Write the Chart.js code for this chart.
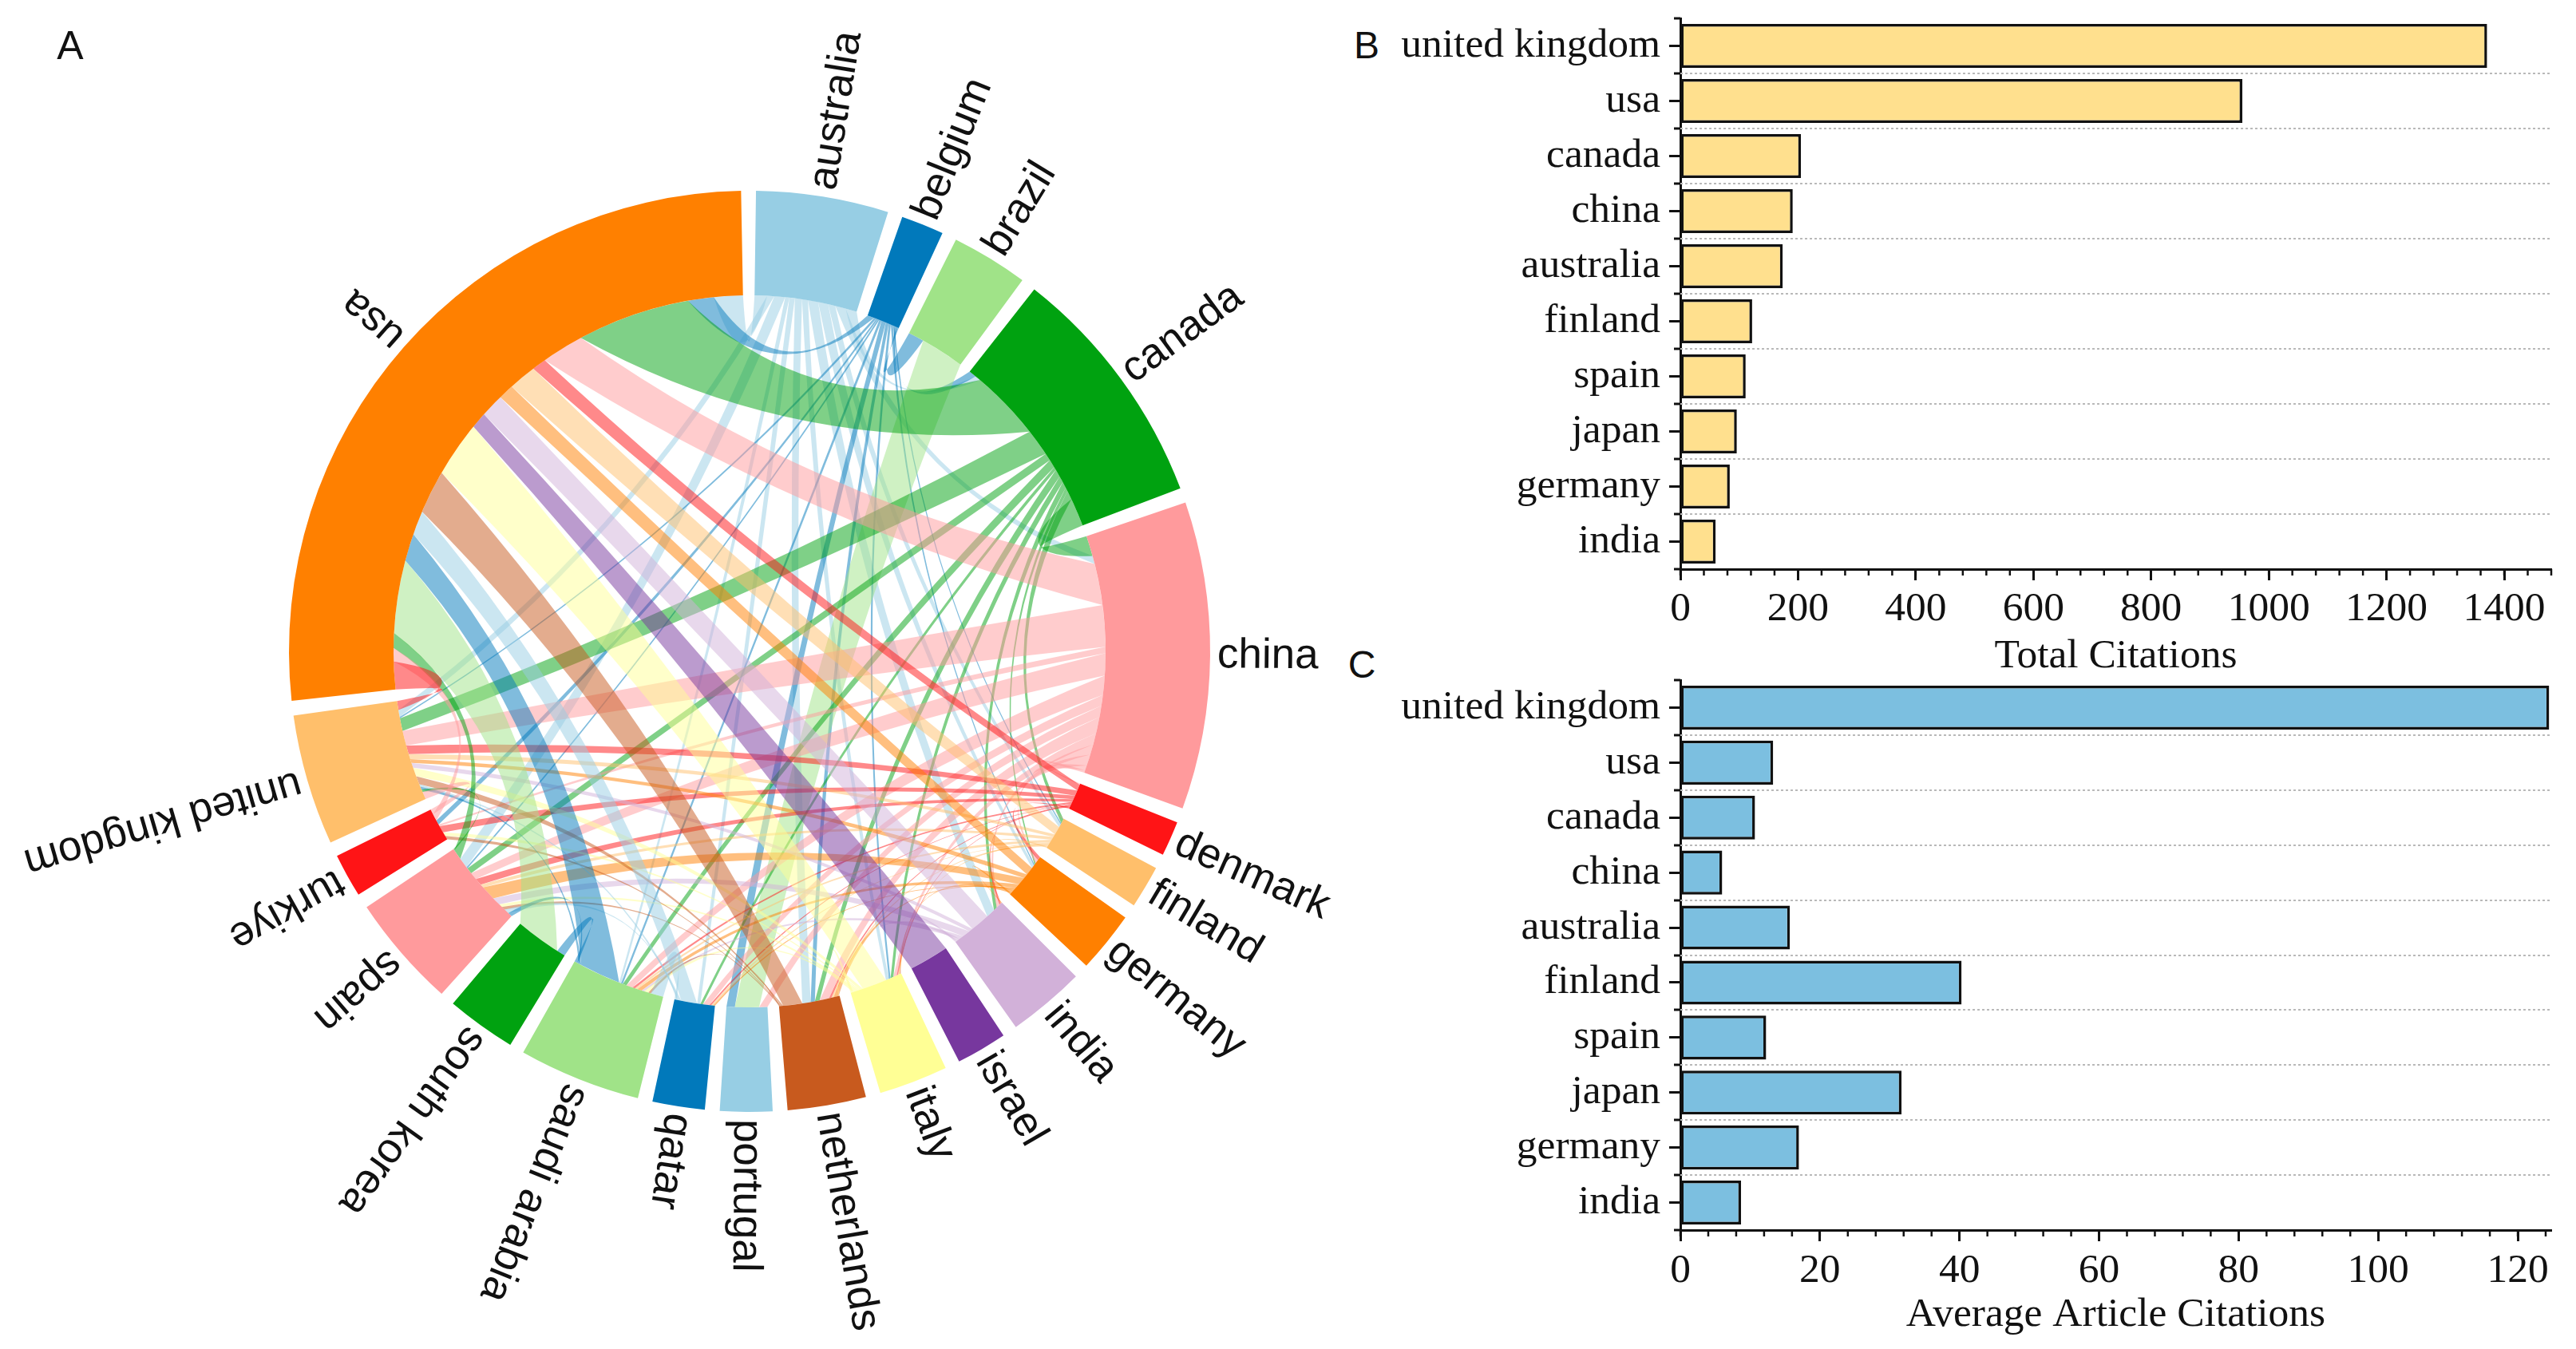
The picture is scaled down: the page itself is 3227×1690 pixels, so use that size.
<!DOCTYPE html>
<html><head><meta charset="utf-8">
<style>
html,body{margin:0;padding:0;background:#fff;width:3227px;height:1690px;overflow:hidden}
canvas{position:absolute}
.tag{position:absolute;font-family:"Liberation Sans",sans-serif;color:#111;line-height:1;transform:translate(-50%,-50%)}
</style>
<script src="https://cdn.jsdelivr.net/npm/chart.js@4"></script>
</head><body>
<div class="tag" style="left:88px;top:57px;font-size:50px">A</div>
<div class="tag" style="left:1712px;top:57px;font-size:48px">B</div>
<div class="tag" style="left:1706px;top:833px;font-size:48px">C</div>
<canvas id="chord" width="1680" height="1690" style="left:0;top:0"></canvas>
<canvas id="barB" width="1547" height="850" style="left:1680px;top:0"></canvas>
<canvas id="barC" width="1547" height="870" style="left:1680px;top:820px"></canvas>
<script>
// ---------- data ----------
const countries = ["australia","belgium","brazil","canada","china","denmark","finland","germany","india","israel","italy","netherlands","portugal","qatar","saudi arabia","south korea","spain","turkiye","united kingdom","usa"];
const sectorValues = [16.7,5.4,9.7,31.1,38.8,4.4,5.4,7.7,9.8,6.4,8.7,9.9,6.6,6.6,15.4,8.8,14.3,5.5,16.5,95.1];
const sectorColors = ["#97CEE4","#0179BB","#A0E388","#00A210","#FF9A9C","#FF1416","#FFBF6B","#FF8000","#D2B1D9","#77379E","#FFFF95","#C85A1E","#97CEE4","#0179BB","#A0E388","#00A210","#FF9A9C","#FF1416","#FFBF6B","#FF8000"];
const linkColors = ["#97CEE4","#0179BB","#A0E388","#00A210","#FF9A9C","#FF1416","#FFBF6B","#FF8000","#D2B1D9","#77379E","#FFFF95","#C85A1E","#97CEE4","#97CEE4","#0179BB","#A0E388","#00A210","#FF9A9C","#FF1416","#FF8000"];
// [from, to, width at from, width at to]
const linksAustralia = [["australia","canada",1.9,.9],["australia","china",1.8,1.3],["australia","germany",1.7,.5],["australia","finland",1.2,.5],["australia","india",1.7,1.4],["australia","italy",1,.5],["australia","netherlands",1.2,1.4],["australia","qatar",.9,.5],["australia","saudi arabia",.7,.3],["australia","spain",1.8,1.4],["australia","united kingdom",1.2,1.1],["australia","usa",2.1,4.7]];
const linksBelgium = [["belgium","brazil",.3,2.6],["belgium","canada",.3,1.2],["belgium","finland",.2,.2],["belgium","germany",.3,.2],["belgium","italy",.3,.3],["belgium","netherlands",.4,.7],["belgium","portugal",.6,1.3],["belgium","saudi arabia",.3,.3],["belgium","spain",.2,.2],["belgium","turkiye",.2,.8],["belgium","united kingdom",.3,.2],["belgium","usa",.9,4.2]];
const linksBrazil = [["brazil","portugal",7.2,3.8]];
const linksCanada = [["canada","china",4.5,3.2],["canada","finland",1.4,.7],["canada","germany",.6,.3],["canada","india",1,.6],["canada","italy",1,.5],["canada","netherlands",1.2,.8],["canada","qatar",.5,.4],["canada","saudi arabia",1.3,.6],["canada","spain",1.2,.8],["canada","united kingdom",4.3,2],["canada","usa",11.3,18.3]];
const linksChina = [["china","denmark",.4,.2],["china","finland",.8,.1],["china","germany",1.8,.7],["china","india",1.6,.6],["china","italy",1.8,.6],["china","netherlands",2.6,1.6],["china","portugal",1.8,1.3],["china","qatar",1.7,1],["china","saudi arabia",3,1],["china","spain",3.5,1],["china","turkiye",1,.3],["china","united kingdom",6.5,2.3],["china","usa",6.5,6.8]];
const linksDenmark = [["denmark","germany",.2,.6],["denmark","india",.1,.3],["denmark","italy",.2,.25],["denmark","netherlands",.2,.4],["denmark","qatar",.1,.3],["denmark","saudi arabia",.3,.4],["denmark","spain",.4,1],["denmark","turkiye",.6,1.2],["denmark","united kingdom",.8,1.4],["denmark","usa",.9,2.3]];
const linksFinland = [["finland","india",.2,.1],["finland","italy",.4,.25],["finland","netherlands",.3,.4],["finland","qatar",.1,.3],["finland","saudi arabia",.5,.4],["finland","spain",.5,.5],["finland","united kingdom",.5,.8],["finland","usa",1.3,4.5]];
const linksGermany = [["germany","india",.3,.1],["germany","italy",.6,.2],["germany","netherlands",.4,.8],["germany","qatar",.2,.3],["germany","saudi arabia",.8,.7],["germany","spain",1.4,2],["germany","united kingdom",.8,.6],["germany","usa",1.4,2.5]];
const linksIndia = [["india","italy",.3,.1],["india","netherlands",.5,.1],["india","saudi arabia",.7,.4],["india","spain",1.2,1.1],["india","united kingdom",.6,.8],["india","usa",3,3.8]];
const linksIsrael = [["israel","usa",6.4,2.6]];
const linksItaly = [["italy","netherlands",.4,.1],["italy","saudi arabia",.5,.7],["italy","spain",.5,.5],["italy","turkiye",.2,.7],["italy","united kingdom",.5,1.4],["italy","usa",4,9]];
const linksNetherlands = [["netherlands","saudi arabia",.15,.4],["netherlands","spain",.2,.5],["netherlands","turkiye",.15,.7],["netherlands","united kingdom",.2,1.3],["netherlands","usa",3.2,7]];
const linksQatar = [["qatar","saudi arabia",.4,2],["qatar","spain",.3,.7],["qatar","united kingdom",.4,.4],["qatar","usa",2.5,3.9]];
const linksSaudi = [["saudi arabia","south korea",.5,1.4],["saudi arabia","spain",.3,.6],["saudi arabia","united kingdom",.4,.5],["saudi arabia","usa",6.5,4.4]];
const linksKorea = [["south korea","usa",7.4,11.8]];
const linksSpain = [["spain","united kingdom",.2,.4],["spain","usa",1.4,2.4]];
const linksTurkiye = [["turkiye","united kingdom",.9,1.2],["turkiye","usa",1.2,2.2]];
const linksUK = [["united kingdom","usa",1.4,4.5]];

const barCategories = ["united kingdom","usa","canada","china","australia","finland","spain","japan","germany","india"];
const totalCitations = [1371,955,205,191,174,122,111,96,84,60];
const averageCitations = [124.5,13.3,10.7,6,15.7,40.3,12.3,31.7,17,8.7];
const totalTicks = [0,200,400,600,800,1000,1200,1400];
const averageTicks = [0,20,40,60,80,100,120];

// ---------- chord ----------
const sectorGap = 1.86;
const allLinks = [].concat(linksAustralia,linksBelgium,linksBrazil,linksCanada,linksChina,linksDenmark,linksFinland,linksGermany,linksIndia,linksIsrael,linksItaly,linksNetherlands,linksQatar,linksSaudi,linksKorea,linksSpain,linksTurkiye,linksUK);
const ix = n => countries.indexOf(n);

const ribbons = {
  id:'ribbons',
  beforeDatasetsDraw(chart){
    const arcs = chart.getDatasetMeta(0).data, n = countries.length, ctx = chart.ctx;
    const cx = arcs[0].x, cy = arcs[0].y, r = arcs[0].innerRadius;
    const ends = countries.map(()=>[]);
    const slots = allLinks.map(()=>({}));
    allLinks.forEach((l,k)=>{
      ends[ix(l[0])].push({k,side:'a',other:ix(l[1]),v:l[2]});
      ends[ix(l[1])].push({k,side:'b',other:ix(l[0]),v:l[3]});
    });
    ends.forEach((list,i)=>{
      const arc = arcs[i*2];
      list.sort((p,q)=>((q.other-i+n)%n)-((p.other-i+n)%n));
      const sum = list.reduce((s,e)=>s+e.v,0);
      let a = arc.startAngle;
      const span = arc.endAngle-arc.startAngle;
      list.forEach(e=>{
        const w = e.v/sum*span;
        slots[e.k][e.side]=[a,a+w];
        a+=w;
      });
    });
    const pt = t=>[cx+r*Math.cos(t),cy+r*Math.sin(t)];
    const curveTo = (t1,t2)=>{
      const p=pt(t1),q=pt(t2),k=0.74;
      ctx.quadraticCurveTo(cx+((p[0]+q[0])/2-cx)*k,cy+((p[1]+q[1])/2-cy)*k,q[0],q[1]);
    };
    ctx.save();
    ctx.globalAlpha=0.5;
    allLinks.forEach((l,k)=>{
      const A=slots[k].a,B=slots[k].b;
      ctx.beginPath();
      ctx.arc(cx,cy,r,A[0],A[1]);
      curveTo(A[1],B[0]);
      ctx.arc(cx,cy,r,B[0],B[1]);
      curveTo(B[1],A[0]);
      ctx.closePath();
      ctx.fillStyle=linkColors[ix(l[0])];
      ctx.fill();
    });
    ctx.restore();
  },
  afterDatasetsDraw(chart){
    const arcs = chart.getDatasetMeta(0).data, ctx = chart.ctx;
    ctx.save();
    ctx.fillStyle='#111';
    ctx.font='53px "Liberation Sans"';
    ctx.textAlign='left';
    ctx.textBaseline='middle';
    countries.forEach((name,i)=>{
      const arc=arcs[i*2], t=(arc.startAngle+arc.endAngle)/2;
      ctx.save();
      ctx.translate(arc.x,arc.y);
      ctx.rotate(t);
      ctx.fillText(name,arc.outerRadius+9,0);
      ctx.restore();
    });
    ctx.restore();
  }
};

new Chart(document.getElementById('chord'),{
  type:'doughnut',
  data:{
    labels:countries.flatMap(c=>[c,'']),
    datasets:[{
      data:sectorValues.flatMap(v=>[v,sectorGap]),
      backgroundColor:sectorColors.flatMap(c=>[c,'rgba(0,0,0,0)']),
      borderWidth:0,
      radius:577,
      cutout:'77.3%'
    }]
  },
  options:{
    responsive:false,animation:false,devicePixelRatio:1,
    rotation:0.8,
    layout:{padding:{left:198,right:0,top:0,bottom:58}},
    plugins:{legend:{display:false},tooltip:{enabled:false}},
    events:[]
  },
  plugins:[ribbons]
});

// ---------- bars ----------
const INK='#111';
const decor = {
  id:'decor',
  beforeDatasetsDraw(chart,args,o){
    const ctx=chart.ctx,x=chart.scales.x,y=chart.scales.y,ca=chart.chartArea;
    const step=y.getPixelForValue(1)-y.getPixelForValue(0);
    ctx.save();
    ctx.strokeStyle='#b9b9b9';ctx.lineWidth=2;ctx.setLineDash([3,3]);
    for(let i=0;i<barCategories.length-1;i++){
      const py=Math.round(y.getPixelForValue(i)+step/2);
      ctx.beginPath();ctx.moveTo(ca.left,py);ctx.lineTo(ca.right,py);ctx.stroke();
    }
    ctx.setLineDash([]);ctx.strokeStyle=INK;ctx.lineWidth=3;
    for(let i=-1;i<barCategories.length;i++){
      const py=Math.round(y.getPixelForValue(i)+step/2);
      ctx.beginPath();ctx.moveTo(ca.left,py);ctx.lineTo(ca.left-8,py);ctx.stroke();
    }
    ctx.lineWidth=2.5;
    for(let v=0;v<=x.max;v+=o.minor){
      const px=x.getPixelForValue(v);
      ctx.beginPath();ctx.moveTo(px,ca.bottom);ctx.lineTo(px,ca.bottom+8);ctx.stroke();
    }
    ctx.restore();
  }
};
function barConfig(values,color,title,maxV,tickValues,minorV,pad,axisH,titlePad,tickPad){
  const tickFont={family:'"Liberation Serif"',size:51.5};
  return {
    type:'bar',
    data:{labels:barCategories,datasets:[{data:values,backgroundColor:color,borderColor:INK,borderWidth:3.5,borderSkipped:false,barPercentage:0.8,categoryPercentage:1}]},
    options:{
      indexAxis:'y',responsive:false,animation:false,devicePixelRatio:1,events:[],
      layout:{padding:pad},
      plugins:{legend:{display:false},tooltip:{enabled:false},decor:{minor:minorV}},
      scales:{
        x:{min:0,max:maxV,
          ticks:{font:tickFont,color:INK,padding:tickPad,maxRotation:0,autoSkip:false,callback:v=>String(v)},
          border:{color:INK,width:3},
          grid:{drawOnChartArea:false,tickLength:14,tickWidth:3,tickColor:INK},
          title:{display:true,text:title,font:tickFont,color:INK,padding:{top:0,bottom:titlePad}},
          afterBuildTicks(s){s.ticks=tickValues.map(v=>({value:v}));},
          afterFit(s){s.height=axisH;s.paddingLeft=0;s.paddingRight=0;}
        },
        y:{
          ticks:{font:tickFont,color:INK,padding:11,autoSkip:false},
          border:{color:INK,width:3},
          grid:{offset:false,drawOnChartArea:false,tickLength:14,tickWidth:3,tickColor:INK},
          afterFit(s){s.width=425;s.paddingTop=0;s.paddingBottom=0;}
        }
      }
    },
    plugins:[decor]
  };
}
new Chart(document.getElementById('barB'),barConfig(totalCitations,'#FFE08E','Total Citations',1480,totalTicks,40,{top:23,right:31,left:0,bottom:0},137,-3,6));
new Chart(document.getElementById('barC'),barConfig(averageCitations,'#7CBFE0','Average Article Citations',124.8,averageTicks,4,{top:32,right:31,left:0,bottom:0},149,12,7));
</script>
</body></html>
